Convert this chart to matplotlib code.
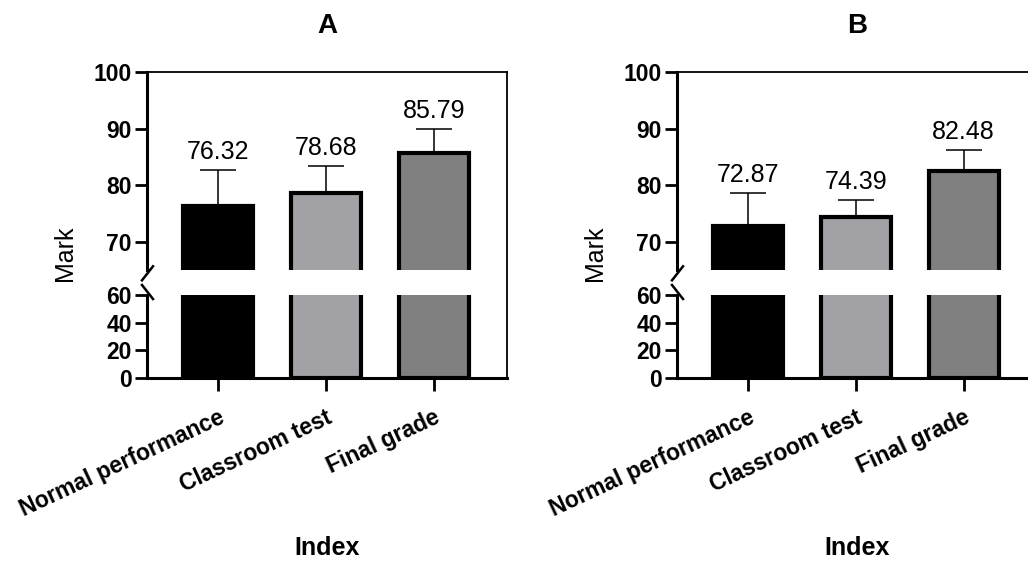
import matplotlib
matplotlib.use("Agg")
import matplotlib.pyplot as plt
from matplotlib.lines import Line2D
import numpy as np

plt.rcParams['font.family'] = ['Liberation Sans', 'DejaVu Sans']

categories = ["Normal performance", "Classroom test", "Final grade"]
panel_titles = ["A", "B"]
means_A = [76.32, 78.68, 85.79]
sd_A = [6.3, 4.7, 4.2]
means_B = [72.87, 74.39, 82.48]
sd_B = [5.8, 3.0, 3.7]
upper_ticks = [70, 80, 90, 100]
lower_ticks = [0, 20, 40, 60]
bar_colors = ["#000000", "#a2a2a6", "#808080"]

W, H = 1028, 561
fig = plt.figure(figsize=(W / 100, H / 100), dpi=100)

def fx(px):
    return px / W

def fy(py):
    return 1 - py / H

panels = [(147, means_A, sd_A, panel_titles[0]), (677, means_B, sd_B, panel_titles[1])]
ax_w = 360
top_px, up_bot_px, lo_top_px, bot_px = 72, 270.3, 295, 378
xlim = (-0.66, 2.68)
x = np.arange(len(categories))
YT = 16.5
XT = 16.5

for left_px, means, sds, title in panels:
    axf = fig.add_axes([fx(left_px), fy(bot_px), fx(ax_w), fy(top_px) - fy(bot_px)])
    axf.set_xlim(xlim)
    axf.patch.set_visible(False)
    for s in ['left', 'bottom']:
        axf.spines[s].set_visible(False)
    for s in ['top', 'right']:
        axf.spines[s].set_linewidth(1.3)
    axf.set_xticks([]); axf.set_yticks([])

    axu = fig.add_axes([fx(left_px), fy(up_bot_px), fx(ax_w), fy(top_px) - fy(up_bot_px)])
    axl = fig.add_axes([fx(left_px), fy(bot_px), fx(ax_w), fy(lo_top_px) - fy(bot_px)])
    for ax in (axu, axl):
        ax.patch.set_visible(False)
        ax.set_xlim(xlim)
        ax.bar(x, means, width=0.65, color=bar_colors, edgecolor='black', linewidth=3.0, zorder=3)
        ax.spines['right'].set_visible(False)
        ax.spines['top'].set_visible(False)
        ax.spines['left'].set_linewidth(2.2)
        ax.spines['bottom'].set_linewidth(2.2)
        ax.tick_params(axis='y', length=9, width=2, pad=2)
    axu.set_ylim(65, 100)
    axl.set_ylim(0, 60)
    axu.spines['bottom'].set_visible(False)
    axu.set_yticks(upper_ticks)
    axu.set_yticklabels([str(t) for t in upper_ticks], fontweight='bold', fontsize=YT)
    axl.set_yticks(lower_ticks)
    axl.set_yticklabels([str(t) for t in lower_ticks], fontweight='bold', fontsize=YT)
    axu.set_xticks([])
    axl.set_xticks(x)
    axl.set_xticklabels(categories, rotation=25, ha='right', va='top',
                        rotation_mode='anchor', fontweight='bold', fontsize=XT)
    axl.tick_params(axis='x', length=9, width=2, pad=11)

    axu.errorbar(x, means, yerr=[np.zeros(len(sds)), sds], fmt='none', ecolor='black',
                 elinewidth=1.1, capsize=13, capthick=1.1, zorder=2)
    for xi, m, s in zip(x, means, sds):
        axu.annotate(f"{m:.2f}", xy=(xi, m + s), xytext=(0, 8), textcoords='offset points',
                     ha='center', va='baseline', fontsize=18)

    sx = left_px
    fig.add_artist(Line2D([fx(sx - 5), fx(sx + 6)], [fy(up_bot_px + 10), fy(up_bot_px - 4)],
                          color='black', lw=1.8))
    fig.add_artist(Line2D([fx(sx - 5), fx(sx + 6)], [fy(lo_top_px - 10), fy(lo_top_px + 4)],
                          color='black', lw=1.8))

    cx = left_px + ax_w / 2
    fig.text(fx(cx), fy(33), title, ha='center', va='baseline', fontsize=20, fontweight='bold')
    fig.text(fx(cx), fy(555), "Index", ha='center', va='baseline', fontsize=18, fontweight='bold')
    fig.text(fx(left_px - 82), fy(253), "Mark", ha='center', va='center', rotation=90, fontsize=18)

fig.savefig("out.png", dpi=100)
